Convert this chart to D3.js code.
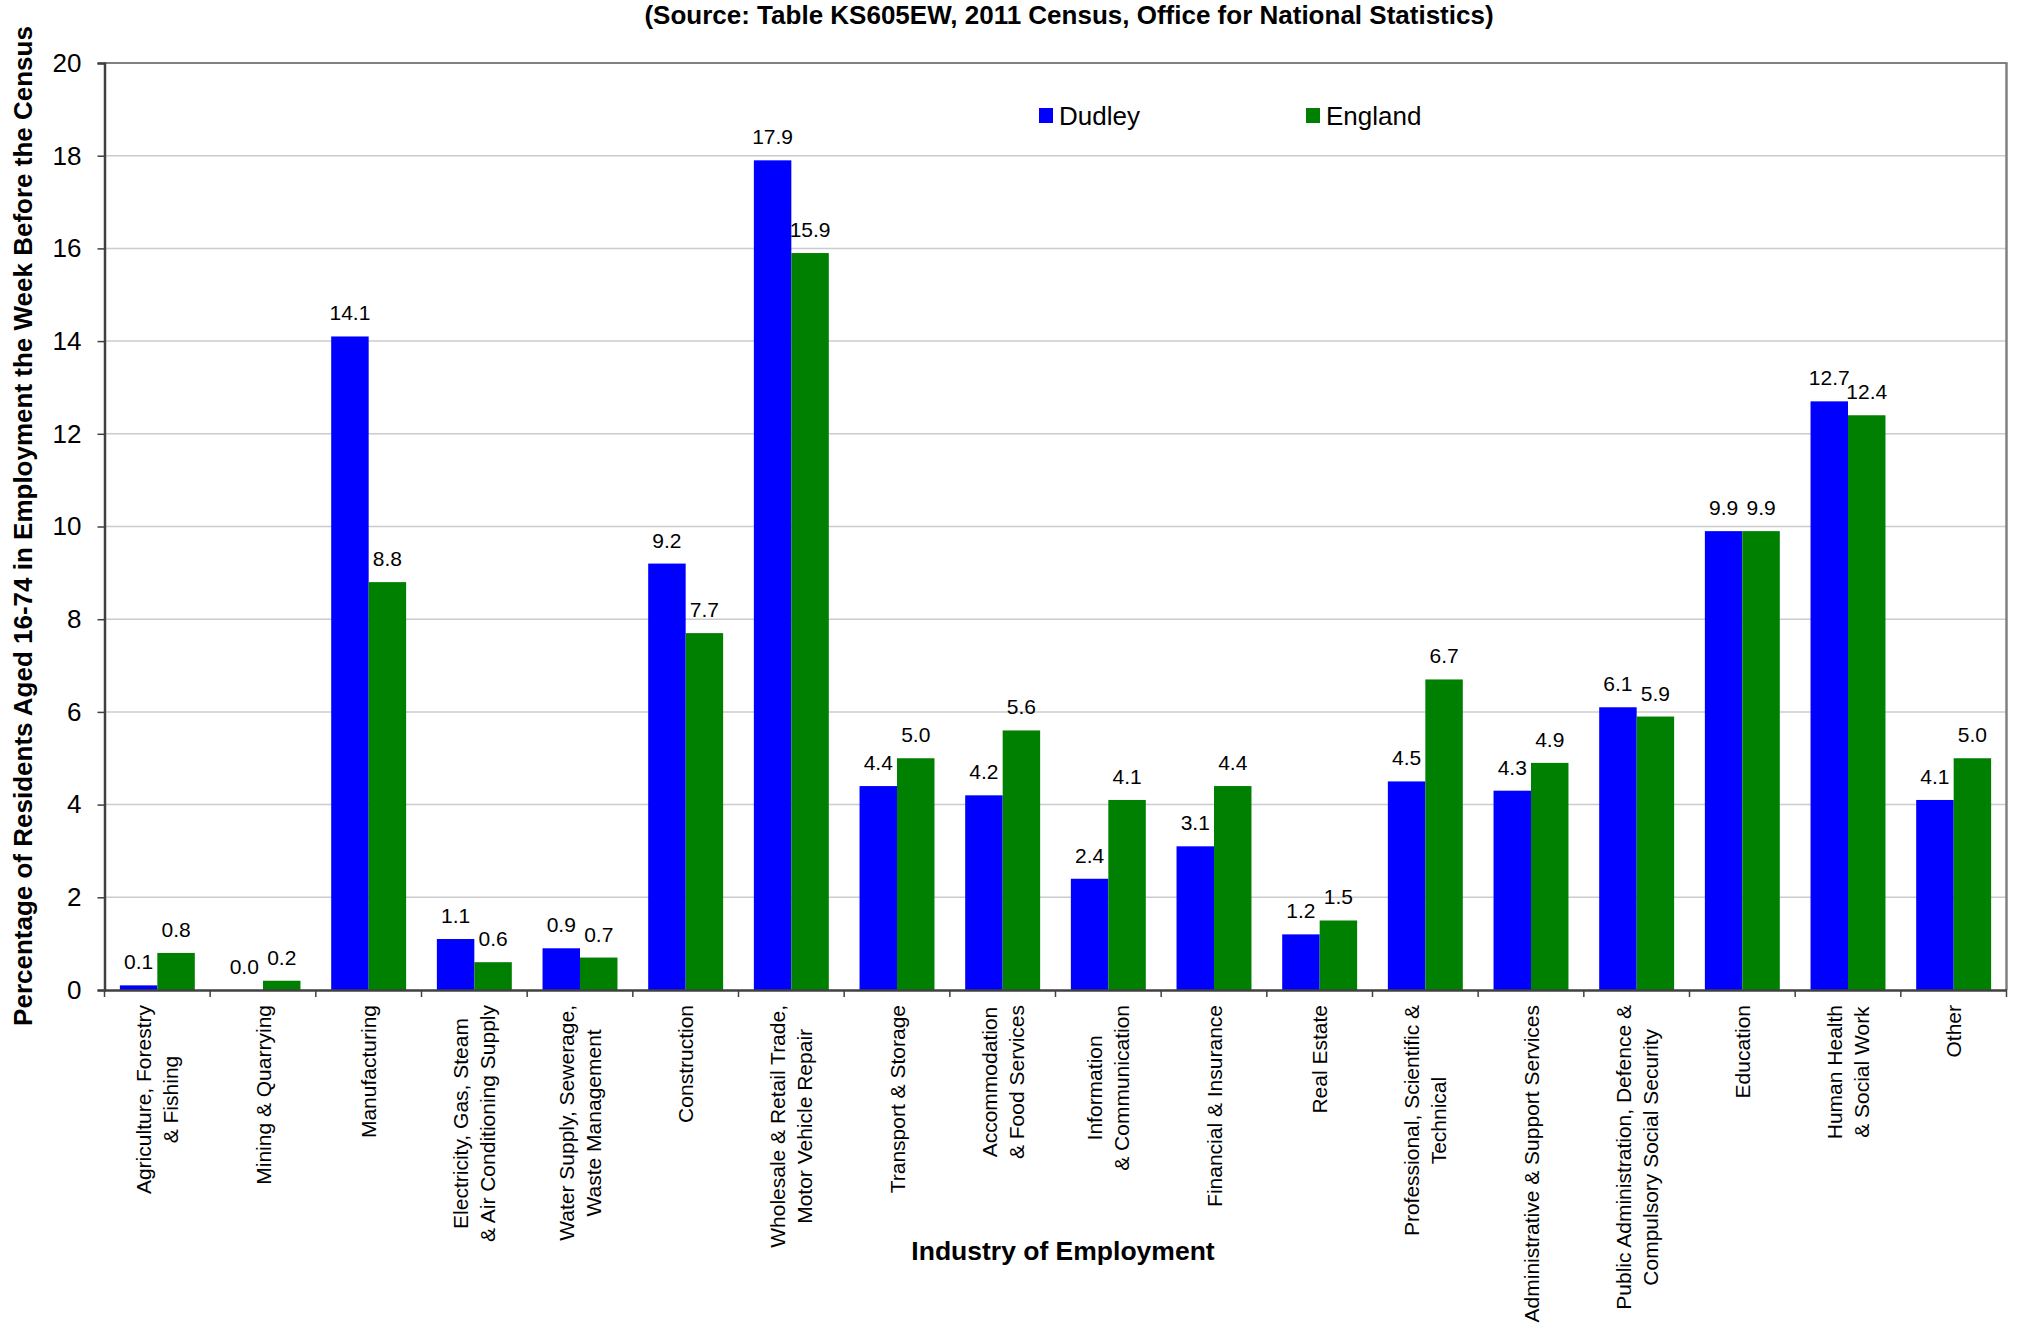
<!DOCTYPE html>
<html><head><meta charset="utf-8">
<script src="https://cdn.jsdelivr.net/npm/d3@7"></script>
<style>
body{margin:0;background:#fff}
svg{display:block}
text{font-family:"Liberation Sans",Arial,Helvetica,sans-serif;fill:#000}
</style>
</head><body>
<svg id="chart" width="2019" height="1328"></svg>
<script>
const categories = [
  ["Agriculture, Forestry","& Fishing"],
  ["Mining & Quarrying"],
  ["Manufacturing"],
  ["Electricity, Gas, Steam","& Air Conditioning Supply"],
  ["Water Supply, Sewerage,","Waste Management"],
  ["Construction"],
  ["Wholesale & Retail Trade,","Motor Vehicle Repair"],
  ["Transport & Storage"],
  ["Accommodation","& Food Services"],
  ["Information","& Communication"],
  ["Financial & Insurance"],
  ["Real Estate"],
  ["Professional, Scientific &","Technical"],
  ["Administrative & Support Services"],
  ["Public Administration, Defence &","Compulsory Social Security"],
  ["Education"],
  ["Human Health","& Social Work"],
  ["Other"]
];
const dudley  = [0.1, 0.0, 14.1, 1.1, 0.9, 9.2, 17.9, 4.4, 4.2, 2.4, 3.1, 1.2, 4.5, 4.3, 6.1, 9.9, 12.7, 4.1];
const england = [0.8, 0.2, 8.8, 0.6, 0.7, 7.7, 15.9, 5.0, 5.6, 4.1, 4.4, 1.5, 6.7, 4.9, 5.9, 9.9, 12.4, 5.0];
const seriesNames = ["Dudley", "England"];
const seriesColors = ["#0000ff", "#008000"];
const yTicks = [0, 2, 4, 6, 8, 10, 12, 14, 16, 18, 20];
const titleText = "(Source: Table KS605EW, 2011 Census, Office for National Statistics)";
const yTitle = "Percentage of Residents Aged 16-74 in Employment the Week Before the Census";
const xTitle = "Industry of Employment";

const svg = d3.select("#chart");
const L = 104.5, R = 2006.5, T = 63, B = 990;

const x = d3.scaleBand().domain(d3.range(categories.length)).range([L, R]).padding(0);
const xs = d3.scaleBand().domain([0, 1]).range([0, x.bandwidth()]).paddingInner(0).paddingOuter(0.41);
const y = d3.scaleLinear().domain([0, 20]).range([B, T]);

// gridlines
svg.append("g").selectAll("line").data(yTicks.filter(d => d > 0)).join("line")
  .attr("x1", L).attr("x2", R).attr("y1", d => y(d)).attr("y2", d => y(d))
  .attr("stroke", "#cccccc").attr("stroke-width", 1.5);

// plot border top/right
svg.append("line").attr("x1", L).attr("x2", R + 1).attr("y1", T).attr("y2", T)
  .attr("stroke", "#808080").attr("stroke-width", 2);
svg.append("line").attr("x1", R).attr("x2", R).attr("y1", T).attr("y2", B)
  .attr("stroke", "#808080").attr("stroke-width", 2.5);

// bars
const series = [dudley, england];
const gBars = svg.append("g");
series.forEach((vals, s) => {
  gBars.append("g").selectAll("rect").data(vals).join("rect")
    .attr("x", (d, i) => x(i) + xs(s))
    .attr("width", xs.bandwidth())
    .attr("y", d => y(d))
    .attr("height", d => B - y(d))
    .attr("fill", seriesColors[s]);
});

// data labels
series.forEach((vals, s) => {
  svg.append("g").selectAll("text").data(vals).join("text")
    .attr("x", (d, i) => x(i) + xs(s) + xs.bandwidth() / 2)
    .attr("y", d => y(d) - 16)
    .attr("text-anchor", "middle")
    .style("font-size", "21px")
    .text(d => d.toFixed(1));
});

// y axis
const yAxis = svg.append("g").attr("transform", `translate(${L},0)`)
  .call(d3.axisLeft(y).tickValues(yTicks).tickSize(7).tickPadding(16).tickFormat(d3.format("d")));
yAxis.select(".domain").attr("stroke", "#404040").attr("stroke-width", 2.5);
yAxis.selectAll(".tick line").attr("stroke", "#404040").attr("stroke-width", 1.5);
yAxis.selectAll(".tick text").style("font-size", "26px")
  .style("font-family", '"Liberation Sans",Arial,sans-serif').attr("fill", "#000");

// x axis line and ticks at category boundaries
const xAxis = svg.append("g").attr("transform", `translate(0,${B})`)
  .call(d3.axisBottom(x).tickSize(0).tickFormat(""));
xAxis.select(".domain").attr("stroke", "#404040").attr("stroke-width", 2.5);
svg.append("g").selectAll("line").data(d3.range(categories.length + 1)).join("line")
  .attr("x1", i => i < categories.length ? x(i) : R)
  .attr("x2", i => i < categories.length ? x(i) : R)
  .attr("y1", B).attr("y2", B + 7)
  .attr("stroke", "#404040").attr("stroke-width", 1.5);

// category labels (rotated)
const labTop = 1005, lineGap = 26.8;
const gCat = svg.append("g");
categories.forEach((lines, i) => {
  const cx = x(i) + x.bandwidth() / 2;
  const texts = lines.map((ln, j) => gCat.append("text")
    .style("font-size", "21px")
    .attr("text-anchor", "middle")
    .attr("dominant-baseline", "central")
    .text(ln));
  const maxW = d3.max(texts, t => t.node().getComputedTextLength());
  texts.forEach((t, j) => {
    const off = (j - (lines.length - 1) / 2) * lineGap;
    t.attr("transform", `translate(${cx + off},${labTop + maxW / 2}) rotate(-90)`);
  });
});

// titles
svg.append("text").attr("x", 1069).attr("y", 24).attr("text-anchor", "middle")
  .style("font-size", "26px").style("font-weight", "bold").text(titleText);
svg.append("text").attr("transform", "translate(23,526) rotate(-90)")
  .attr("text-anchor", "middle").attr("dominant-baseline", "central")
  .style("font-size", "26px").style("font-weight", "bold").text(yTitle);
svg.append("text").attr("x", 1063).attr("y", 1260).attr("text-anchor", "middle")
  .style("font-size", "26.5px").style("font-weight", "bold").text(xTitle);

// legend
const legendX = [1039, 1306];
const lg = svg.append("g").selectAll("g").data(seriesNames).join("g")
  .attr("transform", (d, i) => `translate(${legendX[i]},108)`);
lg.append("rect").attr("width", 14).attr("height", 15).attr("fill", (d, i) => seriesColors[i]);
lg.append("text").attr("x", 20).attr("y", 17).style("font-size", "26px").text(d => d);
</script>
</body></html>
